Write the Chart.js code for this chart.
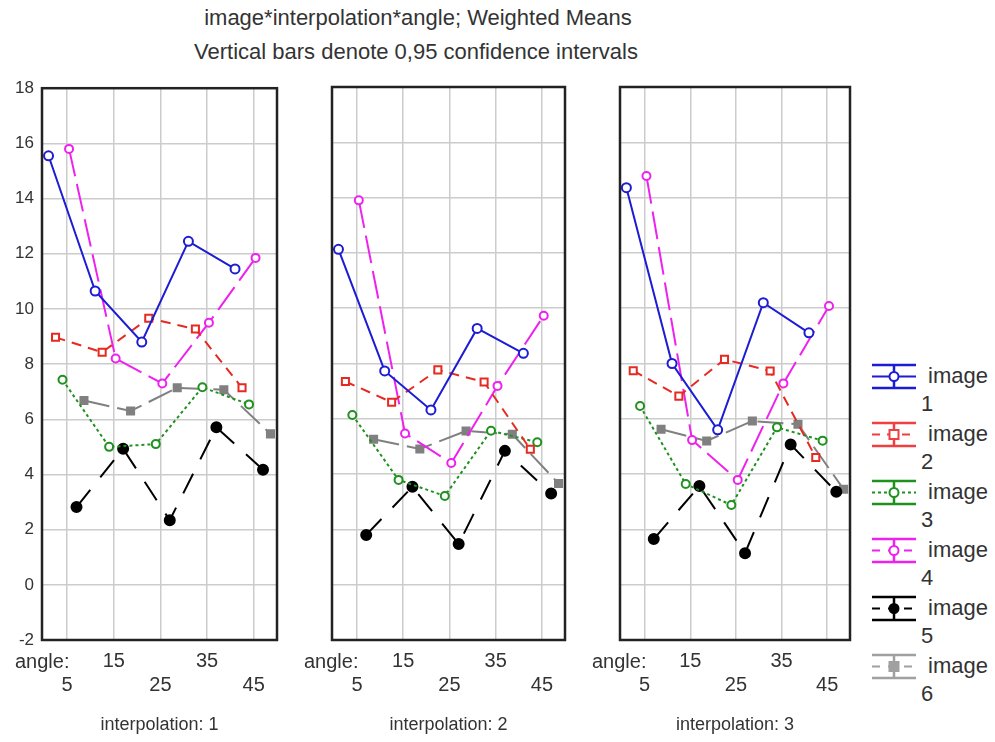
<!DOCTYPE html>
<html>
<head>
<meta charset="utf-8">
<script src="https://cdn.jsdelivr.net/npm/chart.js@4/dist/chart.umd.min.js"></script>
<style>
body { margin: 0; background: #fff; width: 995px; height: 742px; position: relative; overflow: hidden;
       font-family: "Liberation Sans", Arial, sans-serif; color: #333; }
canvas { position: absolute; }
.t { position: absolute; white-space: nowrap; }
.ttl { font-size: 22px; transform: translateX(-50%); }
.ang { font-size: 20px; top: 650px; }
.leg { font-size: 22px; line-height: 28px; }
</style>
</head>
<body>
<div class="t ttl" style="left:418px;top:5px">image*interpolation*angle; Weighted Means</div>
<div class="t ttl" style="left:416px;top:39px">Vertical bars denote 0,95 confidence intervals</div>

<canvas id="p1" width="285" height="672" style="left:0px;top:70px"></canvas>
<canvas id="p2" width="248" height="667" style="left:325px;top:75px"></canvas>
<canvas id="p3" width="245" height="667" style="left:613px;top:75px"></canvas>

<div class="t ang" style="left:15px">angle:</div>
<div class="t ang" style="left:304px">angle:</div>
<div class="t ang" style="left:592px">angle:</div>

<div id="legend"></div>

<script>
// valores (uma linha por interpolação 1, 2, 3)
const angles = [5, 15, 25, 35, 45];
const yTicks = [-2, 0, 2, 4, 6, 8, 10, 12, 14, 16, 18];
const interpolations = [1, 2, 3];
const seriesNames = ['image 1', 'image 2', 'image 3', 'image 4', 'image 5', 'image 6'];

const image1 = [
    [15.55, 10.65, 8.8, 12.45, 11.45],
    [12.13, 7.73, 6.32, 9.27, 8.37],
    [14.36, 8.0, 5.6, 10.2, 9.11]
];
const image2 = [
    [8.97, 8.43, 9.66, 9.27, 7.14],
    [7.35, 6.6, 7.77, 7.33, 4.9],
    [7.74, 6.82, 8.15, 7.73, 4.6]
];
const image3 = [
    [7.43, 5.0, 5.1, 7.16, 6.54],
    [6.14, 3.79, 3.21, 5.57, 5.15],
    [6.46, 3.64, 2.88, 5.69, 5.21]
];
const image4 = [
    [15.8, 8.2, 7.3, 9.5, 11.85],
    [13.9, 5.47, 4.4, 7.19, 9.73],
    [14.78, 5.23, 3.79, 7.28, 10.08]
];
const image5 = [
    [2.82, 4.93, 2.34, 5.71, 4.17],
    [1.8, 3.54, 1.47, 4.84, 3.3],
    [1.65, 3.57, 1.14, 5.07, 3.36]
];
const image6 = [
    [6.68, 6.3, 7.14, 7.07, 5.47],
    [5.26, 4.91, 5.56, 5.44, 3.66],
    [5.62, 5.2, 5.92, 5.8, 3.45]
];
const allSeries = [image1, image2, image3, image4, image5, image6];

// estilo de cada série (deslocamento horizontal em graus, como no Statistica)
const estilos = [
    { cor: '#1c1cd4', fundo: '#ffffff', dash: [], ponto: 'circle', raio: 4.5, off: -4 },
    { cor: '#e62a22', fundo: '#ffffff', dash: [10, 7], ponto: 'rect', raio: 5, off: -2.5 },
    { cor: '#1f911f', fundo: '#ffffff', dash: [3, 3], ponto: 'circle', raio: 4, off: -1 },
    { cor: '#ee22ee', fundo: '#ffffff', dash: [28, 8], ponto: 'circle', raio: 4, off: 0.4 },
    { cor: '#000000', fundo: '#000000', dash: [22, 16], ponto: 'circle', raio: 5, off: 2 },
    { cor: '#808080', fundo: '#808080', dash: [26, 8], ponto: 'rect', raio: 5, off: 3.6 }
];

// moldura preta em volta da área do gráfico
const moldura = {
    id: 'moldura',
    afterDraw(chart) {
        const a = chart.chartArea;
        const ctx = chart.ctx;
        ctx.save();
        ctx.strokeStyle = '#222';
        ctx.lineWidth = 2.5;
        ctx.strokeRect(a.left, a.top, a.right - a.left, a.bottom - a.top);
        ctx.restore();
    }
};

function criarPainel(id, p, mostrarY) {
    const datasets = allSeries.map((serie, i) => ({
        label: seriesNames[i],
        data: angles.map((a, k) => ({ x: a + estilos[i].off, y: serie[p][k] })),
        borderColor: estilos[i].cor,
        backgroundColor: estilos[i].fundo,
        borderWidth: 2,
        borderDash: estilos[i].dash,
        pointStyle: estilos[i].ponto,
        pointRadius: estilos[i].raio,
        pointBorderWidth: 2,
        pointBorderColor: estilos[i].cor,
        pointBackgroundColor: estilos[i].fundo,
        tension: 0
    }));

    new Chart(document.getElementById(id), {
        type: 'line',
        data: { datasets: datasets },
        options: {
            responsive: false,
            animation: false,
            layout: { padding: { top: 12, right: 8, left: 0, bottom: 0 } },
            plugins: { legend: { display: false }, tooltip: { enabled: false } },
            scales: {
                x: {
                    type: 'linear',
                    min: -0.4,
                    max: 50,
                    afterBuildTicks: ax => { ax.ticks = angles.map(v => ({ value: v })); },
                    afterFit: ax => { ax.height = 102; },
                    grid: { color: '#cccccc', lineWidth: 1.5, drawTicks: false },
                    border: { display: false },
                    ticks: {
                        padding: 9,
                        maxRotation: 0,
                        autoSkip: false,
                        color: '#333',
                        font: { family: '"Liberation Sans", Arial', size: 20, lineHeight: 1.2 },
                        // 15 e 35 na primeira linha, 5, 25 e 45 na segunda
                        callback: v => (v === 15 || v === 35) ? [String(v), ''] : ['', String(v)]
                    },
                    title: {
                        display: true,
                        text: 'interpolation: ' + interpolations[p],
                        color: '#333',
                        font: { family: '"Liberation Sans", Arial', size: 18 },
                        padding: { top: 0, bottom: 6 }
                    }
                },
                y: {
                    min: -2,
                    max: 18,
                    afterBuildTicks: ax => { ax.ticks = yTicks.map(v => ({ value: v })); },
                    afterFit: ax => { ax.width = mostrarY ? 42 : 5; },
                    grid: { color: '#cccccc', lineWidth: 1.5, drawTicks: false },
                    border: { display: false },
                    ticks: {
                        display: mostrarY,
                        padding: 8,
                        color: '#333',
                        font: { family: '"Liberation Sans", Arial', size: 17, lineHeight: 1.2 }
                    }
                }
            }
        },
        plugins: [moldura]
    });
}

criarPainel('p1', 0, true);
criarPainel('p2', 1, false);
criarPainel('p3', 2, false);

// legenda à direita: símbolo de barra de erro + "image" / número
const legenda = document.getElementById('legend');
const corLegenda = ['#1c1cd4', '#ee4040', '#1f911f', '#ee22ee', '#000000', '#a0a0a0'];
seriesNames.forEach((nome, i) => {
    const topo = 363 + i * 58;
    const c = document.createElement('canvas');
    c.width = 44; c.height = 27;
    c.style.left = '872px'; c.style.top = topo + 'px';
    legenda.appendChild(c);
    const ctx = c.getContext('2d');
    const cor = corLegenda[i];
    ctx.strokeStyle = cor;
    ctx.lineWidth = 2.5;
    ctx.beginPath();
    ctx.moveTo(0, 2); ctx.lineTo(44, 2);
    ctx.moveTo(0, 25); ctx.lineTo(44, 25);
    ctx.moveTo(22, 2); ctx.lineTo(22, 25);
    ctx.stroke();
    ctx.lineWidth = 2;
    ctx.setLineDash(estilos[i].dash.length ? estilos[i].dash.map(d => Math.min(d, 8)) : []);
    ctx.beginPath();
    ctx.moveTo(0, 13.5); ctx.lineTo(44, 13.5);
    ctx.stroke();
    ctx.setLineDash([]);
    ctx.fillStyle = estilos[i].fundo === '#ffffff' ? '#ffffff' : cor;
    ctx.beginPath();
    if (estilos[i].ponto === 'rect') ctx.rect(17.5, 9, 9, 9);
    else ctx.arc(22, 13.5, 4.5, 0, Math.PI * 2);
    ctx.fill();
    ctx.stroke();

    const partes = nome.split(' ');
    const t1 = document.createElement('div');
    t1.className = 't leg';
    t1.style.left = '928px'; t1.style.top = (topo - 1) + 'px';
    t1.textContent = partes[0];
    legenda.appendChild(t1);
    const t2 = document.createElement('div');
    t2.className = 't leg';
    t2.style.left = '921px'; t2.style.top = (topo + 27) + 'px';
    t2.textContent = partes[1];
    legenda.appendChild(t2);
});
</script>
</body>
</html>
